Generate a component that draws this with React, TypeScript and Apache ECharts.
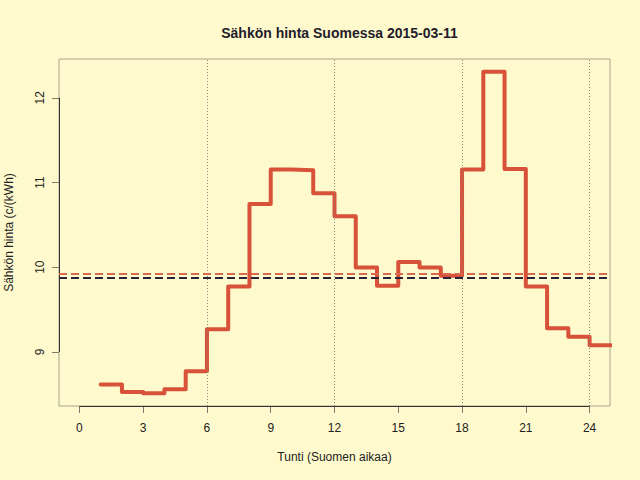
import React, { useEffect, useRef } from "react";
import * as echarts from "echarts";

const hours = [1, 2, 3, 4, 5, 6, 7, 8, 9, 10, 11, 12, 13, 14, 15, 16, 17, 18, 19, 20, 21, 22, 23, 24, 25];
const prices = [
  8.615, 8.525, 8.513, 8.56, 8.77, 9.266, 9.772, 10.745, 11.153, 11.145, 10.874, 10.6,
  9.995, 9.78, 10.06, 9.995, 9.9, 11.153, 12.306, 11.16, 9.772, 9.28, 9.18, 9.078, 9.078,
];
const dayMean = 9.921;
const refMean = 9.871;
const xTicks = [0, 3, 6, 9, 12, 15, 18, 21, 24];
const yTicks = [9, 10, 11, 12];
const vLines = [6, 12, 18, 24];
const xRange = [-0.96, 24.96];
const yRange = [8.361, 12.458];

const TEXT = "#222222";
const AXIS = "#3a3038";
const TICK = "#7e7a6a";
const FONT = "Liberation Sans, Arial, Helvetica, sans-serif";

export default function App() {
  const ref = useRef<HTMLDivElement>(null);
  useEffect(() => {
    document.body.style.margin = "0";
    const chart = echarts.init(ref.current!, undefined, { renderer: "svg" });
    chart.setOption({
      animation: false,
      backgroundColor: "#fffacd",
      textStyle: { fontFamily: FONT },
      title: {
        text: "Sähkön hinta Suomessa 2015-03-11",
        left: 334.5,
        top: 21,
        textAlign: "center",
        textStyle: { fontSize: 14, fontWeight: "bold", color: "#231c2a", fontFamily: FONT },
      },
      grid: {
        left: 59,
        right: 30,
        top: 59,
        bottom: 74,
        containLabel: false,
        outerBoundsMode: "none",
        show: true,
        borderColor: "#a8a48c",
        borderWidth: 1,
        backgroundColor: "transparent",
      },
      xAxis: {
        type: "value",
        min: xRange[0],
        max: xRange[1],
        name: "Tunti (Suomen aikaa)",
        nameLocation: "middle",
        nameGap: 45,
        nameTextStyle: { fontSize: 12, color: TEXT, fontFamily: FONT },
        axisLine: { show: false, onZero: false },
        splitLine: { show: false },
        axisTick: {
          show: true,
          length: 7,
          inside: false,
          customValues: xTicks,
          lineStyle: { color: TICK, width: 1 },
        },
        axisLabel: {
          customValues: xTicks,
          margin: 16,
          fontSize: 12,
          color: TEXT,
          fontFamily: FONT,
          showMinLabel: true,
          showMaxLabel: true,
        },
      },
      yAxis: {
        type: "value",
        min: yRange[0],
        max: yRange[1],
        name: "Sähkön hinta (c/(kWh)",
        nameLocation: "middle",
        nameGap: 44,
        nameRotate: 90,
        nameTextStyle: { fontSize: 12, color: TEXT, fontFamily: FONT },
        axisLine: { show: false, onZero: false },
        splitLine: { show: false },
        axisTick: {
          show: true,
          length: 7,
          customValues: yTicks,
          lineStyle: { color: TICK, width: 1 },
        },
        axisLabel: {
          customValues: yTicks,
          rotate: 90,
          margin: 13,
          fontSize: 12,
          color: TEXT,
          fontFamily: FONT,
        },
      },
      series: [
        {
          type: "line",
          name: "axes",
          data: [],
          silent: true,
          markLine: {
            symbol: "none",
            silent: true,
            label: { show: false },
            lineStyle: { color: AXIS, width: 1, type: "solid" },
            data: [
              [{ coord: [xTicks[0], yRange[0]] }, { coord: [xTicks[xTicks.length - 1], yRange[0]] }],
              [{ coord: [xRange[0], yTicks[0]] }, { coord: [xRange[0], yTicks[yTicks.length - 1]] }],
            ],
          },
        },
        {
          type: "line",
          name: "grid",
          data: [],
          silent: true,
          markLine: {
            symbol: "none",
            silent: true,
            label: { show: false },
            lineStyle: { color: "#8c8776", width: 1, type: [1, 2] },
            data: vLines.map((v) => ({ xAxis: v })),
          },
        },
        {
          type: "line",
          name: "means",
          data: [],
          silent: true,
          markLine: {
            symbol: "none",
            silent: true,
            label: { show: false },
            data: [
              { yAxis: dayMean, lineStyle: { color: "#d8694d", width: 2, type: [8, 4] } },
              { yAxis: refMean, lineStyle: { color: "#2a2238", width: 2, type: [8, 4] } },
            ],
          },
        },
        {
          type: "line",
          name: "price",
          step: "end",
          showSymbol: false,
          symbol: "none",
          clip: true,
          data: hours.map((h, i) => [h, prices[i]]),
          lineStyle: { color: "#d8523a", width: 4, cap: "round", join: "round" },
        },
      ],
    });
    return () => chart.dispose();
  }, []);
  return <div ref={ref} style={{ position: "absolute", left: 0, top: 0, width: 640, height: 480 }} />;
}
